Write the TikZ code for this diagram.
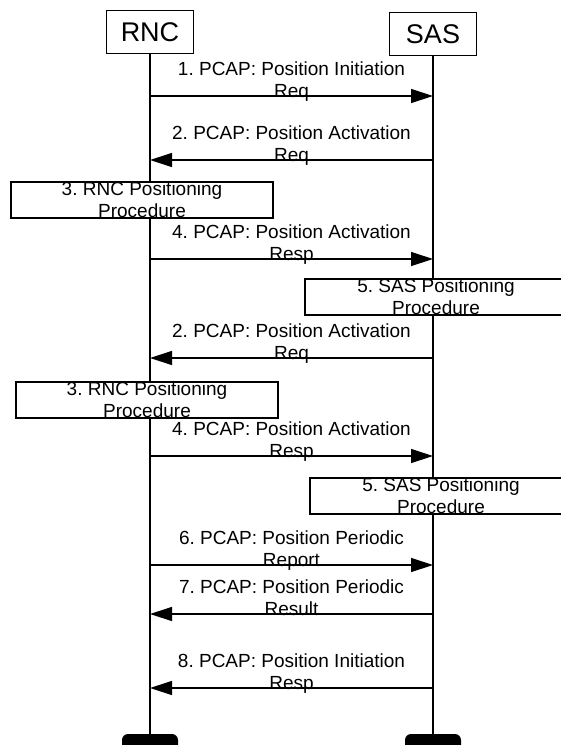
\documentclass[tikz,border=0pt]{standalone}
\usepackage{fontspec}
\setmainfont{Liberation Sans}
\frenchspacing
\usetikzlibrary{positioning, arrows.meta}
\tikzset{
 proc/.style={draw, fill=white, shape=rectangle, line width=1.3pt,
    minimum width=262pt, minimum height=34pt, inner sep=0pt, align=center, font=\fontsize{19}{22}\selectfont}
}

\begin{document}
\begin{tikzpicture}[x=1pt, y=-1pt]
\tikzstyle{actor}=[rectangle, draw=black, line width=1.4pt, minimum width=87pt, minimum height=43pt, inner sep=0pt, font=\fontsize{27}{30}\selectfont]
\tikzstyle{life}=[line width=1.8pt]
\tikzstyle{msg}=[-{Triangle[length=22pt, width=14pt]}, line width=1.3pt]
\tikzstyle{lbl}=[anchor=south, inner sep=0pt, yshift=-8.6pt, align=center, font=\fontsize{19}{22}\selectfont, execute at end node=\strut]
\tikzstyle{lifeend}=[rectangle, rounded corners=6pt, fill=black, minimum width=56pt, minimum height=18pt, inner sep=0pt]
\useasboundingbox (0,0) rectangle (561,745);
% 1. Lifelines
%%%%%%%%%%
\node[actor] (RNC) at (150,32) {RNC};
\node[actor] (SAS) at (433,34) {SAS};
\node[lifeend] (RNCend) at (150,743) {};
\node[lifeend] (SASend) at (433,743) {};
\draw[life] (RNC) -- (RNCend);
\draw[life] (SAS) -- (SASend);
% 2. Nodes
%%%%%%%%%%
\node[proc] (RNCproc1) at (142,200) {3. RNC Positioning\\Procedure};
\node[proc] (SASproc1) at (436,297) {5. SAS Positioning\\Procedure};
\node[proc] (RNCproc2) at (147,400) {3. RNC Positioning\\Procedure};
\node[proc] (SASproc2) at (441,496) {5. SAS Positioning\\Procedure};

\coordinate (r1) at (RNC |- 0,96);  \coordinate (s1) at (SAS |- 0,96);
\coordinate (r2) at (RNC |- 0,160); \coordinate (s2) at (SAS |- 0,160);
\coordinate (r3) at (RNC |- 0,259); \coordinate (s3) at (SAS |- 0,259);
\coordinate (r4) at (RNC |- 0,358); \coordinate (s4) at (SAS |- 0,358);
\coordinate (r5) at (RNC |- 0,456); \coordinate (s5) at (SAS |- 0,456);
\coordinate (r6) at (RNC |- 0,565); \coordinate (s6) at (SAS |- 0,565);
\coordinate (r7) at (RNC |- 0,614); \coordinate (s7) at (SAS |- 0,614);
\coordinate (r8) at (RNC |- 0,688); \coordinate (s8) at (SAS |- 0,688);
% 3. Arrows
%%%%%%%%%%%
\draw[msg] (r1) -- node[lbl] {1. PCAP: Position Initiation\\Req} (s1);
\draw[msg] (s2) -- node[lbl] {2. PCAP: Position Activation\\Req} (r2);
\draw[msg] (r3) -- node[lbl] {4. PCAP: Position Activation\\Resp} (s3);
\draw[msg] (s4) -- node[lbl] {2. PCAP: Position Activation\\Req} (r4);
\draw[msg] (r5) -- node[lbl] {4. PCAP: Position Activation\\Resp} (s5);
\draw[msg] (r6) -- node[lbl] {6. PCAP: Position Periodic\\Report} (s6);
\draw[msg] (s7) -- node[lbl] {7. PCAP: Position Periodic\\Result} (r7);
\draw[msg] (s8) -- node[lbl] {8. PCAP: Position Initiation\\Resp} (r8);

\end{tikzpicture}
\end{document}
